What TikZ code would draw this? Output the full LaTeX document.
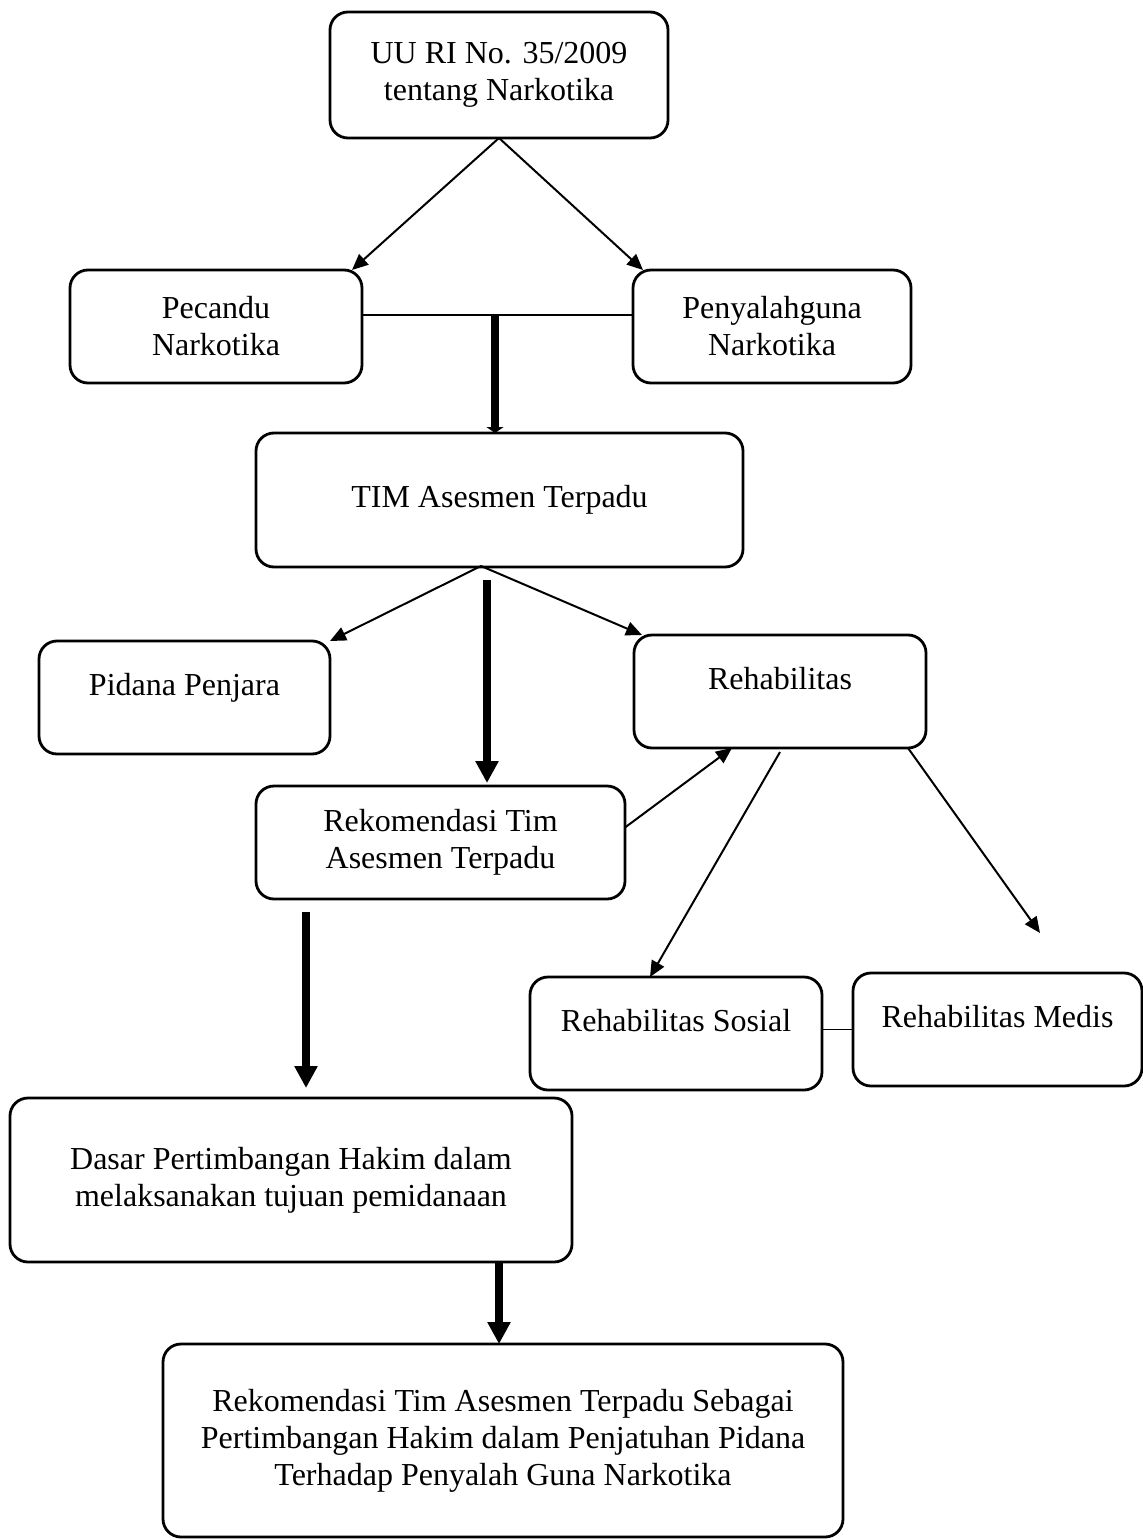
\documentclass[tikz,border=0pt]{standalone}
\usepackage{fontspec}
\setmainfont{Liberation Serif}
\usetikzlibrary{arrows.meta}

\begin{document}
\begin{tikzpicture}[x=0.5pt,y=-0.5pt,
				font=\fontsize{16}{18.5}\selectfont,
				box/.style={draw,rectangle,rounded corners=9pt,line width=1.4pt,align=center,inner sep=0pt,outer sep=0pt},
				upper/.style={text depth=13.5pt},
				link/.style={line width=0.7pt},
				arr/.style={line width=1pt,-{Triangle[length=8pt,width=7pt]}},
				bigarr/.style={line width=3.75pt,-{Triangle[length=11pt,width=11pt]}}]
				\useasboundingbox (0,0) rectangle (1143,1540);
				\node (uu)       [box,minimum width=169pt,minimum height=63pt]   at (499,75)      {UU RI No. 35/2009\\tentang Narkotika};
				\node (pecandu)  [box,minimum width=146pt,minimum height=56.5pt] at (216,326.5)   {Pecandu\\Narkotika};
				\node (penyalah) [box,minimum width=139pt,minimum height=56.5pt] at (772,326.5)   {Penyalahguna\\Narkotika};
				\node (tim)      [box,minimum width=243.5pt,minimum height=67pt] at (499.5,500)   {TIM Asesmen Terpadu};
				\node (pidana)   [box,upper,minimum width=145.5pt,minimum height=56.5pt] at (184.5,697.5) {Pidana Penjara};
				\node (rehab)    [box,upper,minimum width=146pt,minimum height=56.5pt] at (780,691.5)   {Rehabilitas};
				\node (rekom)    [box,minimum width=184.5pt,minimum height=56.5pt] at (440.5,842.5) {Rekomendasi Tim\\Asesmen Terpadu};
				\node (sosial)   [box,upper,minimum width=146pt,minimum height=56.5pt] at (676,1033.5)  {Rehabilitas Sosial};
				\node (medis)    [box,upper,minimum width=144.5pt,minimum height=56.5pt] at (997.5,1029.5) {Rehabilitas Medis};
				\node (dasar)    [box,minimum width=281pt,minimum height=82pt]   at (291,1180)    {Dasar Pertimbangan Hakim dalam\\melaksanakan tujuan pemidanaan};
				\node (akhir)    [box,minimum width=340pt,minimum height=96.5pt] at (503,1440.5)  {Rekomendasi Tim Asesmen Terpadu Sebagai\\Pertimbangan Hakim dalam Penjatuhan Pidana\\Terhadap Penyalah Guna Narkotika};
				
				\coordinate (join)  at (495,315);
				\coordinate (split) at (481,566);
				\coordinate (tdrop) at (487,580);
				\coordinate (rdrop) at (306,912);
				\coordinate (medisin) at (1040,933);
				
				\draw[arr] (uu.south) -- ([xshift=-5pt]pecandu.north east);
				\draw[arr] (uu.south) -- ([xshift=5pt]penyalah.north west);
				\draw[link] (pecandu.east |- join) -- (penyalah.west |- join);
				\draw[bigarr,-{Triangle[length=3pt,width=8.5pt]}] (join) -- (join |- tim.north);
				\draw[arr] (split) -- (pidana.north east);
				\draw[arr] (split) -- ([xshift=4pt]rehab.north west);
				\draw[bigarr,shorten >=1.5pt] (tdrop) -- (tdrop |- rekom.north);
				\draw[arr] ([yshift=7.5pt]rekom.east) -- ([xshift=-24pt]rehab.south);
				\draw[arr] ([yshift=-2pt]rehab.south) -- ([xshift=-13pt]sosial.north);
				\draw[arr] ([xshift=-9pt]rehab.south east) -- (medisin);
				\draw[link] (medis.west) -- (medis.west -| sosial.east);
				\draw[bigarr,shorten >=5pt] (rdrop) -- (rdrop |- dasar.north);
				\draw[bigarr] ([xshift=-2pt]akhir.north |- dasar.south) -- ([xshift=-2pt]akhir.north);
			\end{tikzpicture}
\end{document}
